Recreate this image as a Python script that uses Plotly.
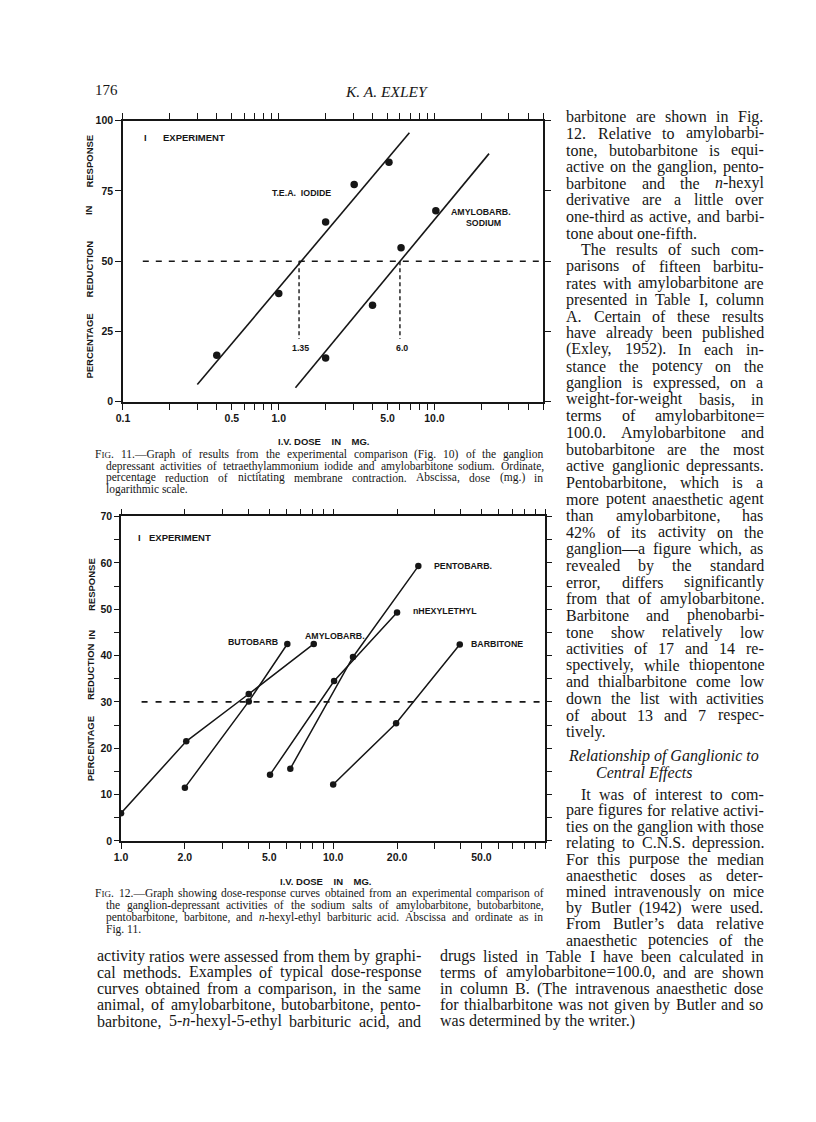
import re
import math
import plotly.graph_objects as go

# ---------------- Fig. 11 data (dose in mg, % reduction in response) -------------
tea_dose = [0.40, 1.0, 2.0, 3.05, 5.1]
tea_resp = [16.5, 38.5, 64.0, 77.3, 85.2]
tea_fit_dose = [0.30, 6.9]
tea_fit_resp = [6.1, 95.7]
amy11_dose = [2.0, 4.0, 6.1, 10.2]
amy11_resp = [15.6, 34.3, 54.8, 68.0]
amy11_fit_dose = [1.28, 22.4]
amy11_fit_resp = [5.0, 88.3]
ed50_level = 50
ed50_start = 0.134
ed50_doses = [1.35, 6.0]
ed50_drop_to = 22.3
ed50_labels = ["1.35", "6.0"]

fig11_xticks = [0.1, 0.2, 0.3, 0.4, 0.5, 0.6, 0.7, 0.8, 0.9,
                1, 2, 3, 4, 5, 6, 7, 8, 9, 10, 20, 30, 40, 50]
fig11_xlabels = {0.1: "0.1", 0.5: "0.5", 1: "1.0", 5: "5.0", 10: "10.0"}
fig11_yticks = [0, 25, 50, 75, 100]

# ---------------- Fig. 12 data ----------------
amy12_dose = [1.0, 2.03, 4.0, 8.1]
amy12_resp = [6.0, 21.5, 31.7, 42.5]
buto_dose = [2.0, 4.0, 6.08]
buto_resp = [11.5, 30.1, 42.5]
pento_dose = [6.28, 12.4, 25.2]
pento_resp = [15.6, 39.7, 59.3]
hexyl_dose = [5.04, 10.1, 20.0]
hexyl_resp = [14.3, 34.5, 49.3]
barb_dose = [10.0, 19.8, 39.5]
barb_resp = [12.2, 25.4, 42.4]
ref12_level = 30
ref12_start = 1.25

fig12_xticks = [1, 2, 3, 4, 5, 6, 7, 8, 9, 10, 20, 30, 40, 50, 60, 70, 80, 90, 100]
fig12_xlabels = {1: "1.0", 2: "2.0", 5: "5.0", 10: "10.0", 20: "20.0", 50: "50.0"}
fig12_yticks = list(range(0, 75, 5))

INK = "#161616"
PW, PH = 816, 1122


def px(x):
    return x / PW


def py(y):
    return 1 - y / PH


fig = go.Figure()

# ---- Fig. 11 traces ----
fig.add_trace(go.Scatter(x=[ed50_start, 50], y=[ed50_level, ed50_level], mode="lines",
                         line=dict(color=INK, width=1.6, dash="6px,7px"),
                         xaxis="x", yaxis="y", showlegend=False, hoverinfo="skip"))
for d in ed50_doses:
    fig.add_trace(go.Scatter(x=[d, d], y=[ed50_level, ed50_drop_to], mode="lines",
                             line=dict(color=INK, width=1.4, dash="4px,3px"),
                             xaxis="x", yaxis="y", showlegend=False, hoverinfo="skip"))
for fx, fy in [(tea_fit_dose, tea_fit_resp), (amy11_fit_dose, amy11_fit_resp)]:
    fig.add_trace(go.Scatter(x=fx, y=fy, mode="lines", line=dict(color=INK, width=1.6),
                             xaxis="x", yaxis="y", showlegend=False))
for dx, dy in [(tea_dose, tea_resp), (amy11_dose, amy11_resp)]:
    fig.add_trace(go.Scatter(x=dx, y=dy, mode="markers",
                             marker=dict(color=INK, size=7.5, line=dict(width=0)),
                             xaxis="x", yaxis="y", showlegend=False))

# ---- Fig. 12 traces ----
fig.add_trace(go.Scatter(x=[ref12_start, 100], y=[ref12_level, ref12_level], mode="lines",
                         line=dict(color=INK, width=1.6, dash="6px,8px"),
                         xaxis="x2", yaxis="y2", showlegend=False, hoverinfo="skip"))
for dx, dy in [(amy12_dose, amy12_resp), (buto_dose, buto_resp), (pento_dose, pento_resp),
               (hexyl_dose, hexyl_resp), (barb_dose, barb_resp)]:
    fig.add_trace(go.Scatter(x=dx, y=dy, mode="lines+markers",
                             line=dict(color=INK, width=1.5),
                             marker=dict(color=INK, size=6.5),
                             xaxis="x2", yaxis="y2", showlegend=False))

tickfont = dict(family="Liberation Sans", size=10.5, color=INK)


def xlabels(ticks, labels):
    return ["<b>%s</b>" % labels[t] if t in labels else "" for t in ticks]


axis_common = dict(showline=True, linecolor=INK, linewidth=1.6, mirror="ticks",
                   ticks="outside", tickcolor=INK, tickwidth=1.3, showgrid=False,
                   zeroline=False, tickfont=tickfont)

fig.update_layout(
    width=PW, height=PH, margin=dict(l=0, r=0, t=0, b=0),
    paper_bgcolor="white", plot_bgcolor="white", showlegend=False,
    xaxis=dict(domain=[px(117), px(541)], type="log", range=[-1, math.log10(50)],
               tickmode="array", tickvals=fig11_xticks,
               ticktext=xlabels(fig11_xticks, fig11_xlabels), ticklen=6,
               anchor="y", **axis_common),
    yaxis=dict(domain=[py(400), py(116)], range=[0, 100], tickmode="array",
               tickvals=fig11_yticks, ticktext=["<b>%d</b>" % v for v in fig11_yticks],
               ticklen=6, anchor="x", **axis_common),
    xaxis2=dict(domain=[px(115), px(543)], type="log", range=[0, 2],
                tickmode="array", tickvals=fig12_xticks,
                ticktext=xlabels(fig12_xticks, fig12_xlabels), ticklen=6,
                anchor="y2", **axis_common),
    yaxis2=dict(domain=[py(844), py(516)], range=[0, 70], tickmode="array",
                tickvals=fig12_yticks,
                ticktext=["<b>%d</b>" % v if v % 10 == 0 else "" for v in fig12_yticks],
                ticklen=5, anchor="x2", **axis_common),
)

# ---------------- text helpers ----------------
CW = {' ': 250, '!': 333, '"': 408, '%': 833, '&': 778, "'": 180, '(': 333, ')': 333,
      ',': 250, '-': 333, '.': 250, '/': 278, ':': 278, ';': 278, '=': 564, '?': 444,
      'A': 722, 'B': 667, 'C': 667, 'D': 722, 'E': 611, 'F': 556, 'G': 722, 'H': 722,
      'I': 333, 'J': 389, 'K': 722, 'L': 611, 'M': 889, 'N': 722, 'O': 722, 'P': 556,
      'Q': 722, 'R': 667, 'S': 556, 'T': 611, 'U': 722, 'V': 722, 'W': 944, 'X': 722,
      'Y': 722, 'Z': 611, 'a': 444, 'b': 500, 'c': 444, 'd': 500, 'e': 444, 'f': 333,
      'g': 500, 'h': 500, 'i': 278, 'j': 278, 'k': 500, 'l': 278, 'm': 778, 'n': 500,
      'o': 500, 'p': 500, 'q': 500, 'r': 333, 's': 389, 't': 278, 'u': 500, 'v': 500,
      'w': 722, 'x': 500, 'y': 500, 'z': 444, '\u2014': 1000, '\u2019': 333}
for _d in "0123456789":
    CW[_d] = 500

annotations = []
SMALLCAP = 0.78


def small_caps_fig(size):
    return "F<span style='font-size:%.1fpx'>IG</span>." % (size * SMALLCAP)


def text_width(s, size):
    if s == "FIG.":
        return (CW['F'] + (CW['I'] + CW['G']) * SMALLCAP + CW['.']) * size / 1000.0
    plain = re.sub(r"<[^>]+>", "", s)
    return sum(CW.get(ch, 500) for ch in plain) * size / 1000.0


def add_text(s, x, y, size, family="Liberation Serif", anchor="left", angle=0):
    annotations.append(dict(text=s, x=px(x), y=py(y), xref="paper", yref="paper",
                            xanchor=anchor, yanchor="middle", showarrow=False,
                            textangle=angle, borderpad=0,
                            font=dict(family=family, size=size, color=INK)))


def add_line(s, x0, x1, y, size, justify=True):
    words = s.split()
    if not justify or len(words) < 2:
        add_text(s, x0, y, size)
        return
    widths = [text_width(w, size) for w in words]
    gap = (x1 - x0 - sum(widths)) / (len(words) - 1)
    x = x0
    for w, wd in zip(words, widths):
        add_text(small_caps_fig(size) if w == "FIG." else w, x, y, size)
        x += wd + gap


# ---------------- page header ----------------
add_text("176", 88, 85, 15)
add_text("<i>K. A. EXLEY</i>", 383, 86, 15.5, anchor="center")

# ---------------- chart labels ----------------
SANS = "Liberation Sans"
NB = "\u00a0"
# Fig 11
add_text("<b>I</b>", 137, 133, 9.5, SANS)
add_text("<b>EXPERIMENT</b>", 156, 133, 9.5, SANS)
add_text("<b>T.E.A." + NB + NB + "IODIDE</b>", 297, 189, 8.8, SANS, anchor="center")
add_text("<b>AMYLOBARB.</b>", 478, 208, 8.8, SANS, anchor="center")
add_text("<b>SODIUM</b>", 481, 219, 8.8, SANS, anchor="center")
add_text("<b>%s</b>" % ed50_labels[0], 296, 346, 8.8, SANS, anchor="center")
add_text("<b>%s</b>" % ed50_labels[1], 398, 346, 8.8, SANS, anchor="center")
add_text("<b>I.V." + NB + "DOSE" + NB * 4 + "IN" + NB * 4 + "MG.</b>", 320, 440, 9.5, SANS, anchor="center")
for word, yy in [("RESPONSE", 157), ("IN", 206), ("REDUCTION", 266), ("PERCENTAGE", 344)]:
    add_text("<b>%s</b>" % word, 83, yy, 9.5, SANS, anchor="center", angle=-90)
# Fig 12
add_text("<b>I</b>", 131, 537, 9.5, SANS)
add_text("<b>EXPERIMENT</b>", 142, 537, 9.5, SANS)
add_text("<b>PENTOBARB.</b>", 430, 566, 8.8, SANS)
add_text("<b>nHEXYLETHYL</b>", 408, 612, 8.8, SANS)
add_text("<b>BARBITONE</b>", 467, 645, 8.8, SANS)
add_text("<b>BUTOBARB</b>", 222, 643, 8.8, SANS)
add_text("<b>AMYLOBARB.</b>", 300, 637, 8.8, SANS)
add_text("<b>I.V." + NB + "DOSE" + NB * 4 + "IN" + NB * 4 + "MG.</b>", 322, 885, 9.5, SANS, anchor="center")
for word, yy in [("RESPONSE", 585), ("IN", 635), ("REDUCTION", 673), ("PERCENTAGE", 751)]:
    add_text("<b>%s</b>" % word, 85, yy, 9.5, SANS, anchor="center", angle=-90)

# ---------------- captions ----------------
CAP_SIZE = 11.5
CAP_STEP = 12.0
cap11 = [
    ("FIG. 11.\u2014Graph of results from the experimental comparison (Fig. 10) of the ganglion", 88, True),
    ("depressant activities of tetraethylammonium iodide and amylobarbitone sodium. Ordinate,", 99, True),
    ("percentage reduction of nictitating membrane contraction. Abscissa, dose (mg.) in", 99, True),
    ("logarithmic scale.", 99, False),
]
for i, (s, x0, j) in enumerate(cap11):
    add_line(s, x0, 540, 453 + CAP_STEP * i, CAP_SIZE, j)

cap12 = [
    ("FIG. 12.\u2014Graph showing dose-response curves obtained from an experimental comparison of", 88, True),
    ("the ganglion-depressant activities of the sodium salts of amylobarbitone, butobarbitone,", 99, True),
    ("pentobarbitone, barbitone, and <i>n</i>-hexyl-ethyl barbituric acid. Abscissa and ordinate as in", 99, True),
    ("Fig. 11.", 99, False),
]
for i, (s, x0, j) in enumerate(cap12):
    add_line(s, x0, 540, 897 + CAP_STEP * i, CAP_SIZE, j)

# ---------------- body text: right column ----------------
right_upper = [
    ("barbitone are shown in Fig.", 0, True),
    ("12. Relative to amylobarbi-", 0, True),
    ("tone, butobarbitone is equi-", 0, True),
    ("active on the ganglion, pento-", 0, True),
    ("barbitone and the <i>n</i>-hexyl", 0, True),
    ("derivative are a little over", 0, True),
    ("one-third as active, and barbi-", 0, True),
    ("tone about one-fifth.", 0, False),
    ("The results of such com-", 15, True),
    ("parisons of fifteen barbitu-", 0, True),
    ("rates with amylobarbitone are", 0, True),
    ("presented in Table I, column", 0, True),
    ("A. Certain of these results", 0, True),
    ("have already been published", 0, True),
    ("(Exley, 1952). In each in-", 0, True),
    ("stance the potency on the", 0, True),
    ("ganglion is expressed, on a", 0, True),
    ("weight-for-weight basis, in", 0, True),
    ("terms of amylobarbitone=", 0, True),
    ("100.0. Amylobarbitone and", 0, True),
    ("butobarbitone are the most", 0, True),
    ("active ganglionic depressants.", 0, True),
    ("Pentobarbitone, which is a", 0, True),
    ("more potent anaesthetic agent", 0, True),
    ("than amylobarbitone, has", 0, True),
    ("42% of its activity on the", 0, True),
    ("ganglion\u2014a figure which, as", 0, True),
    ("revealed by the standard", 0, True),
    ("error, differs significantly", 0, True),
    ("from that of amylobarbitone.", 0, True),
    ("Barbitone and phenobarbi-", 0, True),
    ("tone show relatively low", 0, True),
    ("activities of 17 and 14 re-", 0, True),
    ("spectively, while thiopentone", 0, True),
    ("and thialbarbitone come low", 0, True),
    ("down the list with activities", 0, True),
    ("of about 13 and 7 respec-", 0, True),
    ("tively.", 0, False),
]
RX0, RX1 = 563, 762
for i, (s, ind, j) in enumerate(right_upper):
    add_line(s, RX0 + ind, RX1, 112 + 16.8 * i, 16, j)

add_text("<i>Relationship of Ganglionic to</i>", 565, 758, 16)
add_text("<i>Central Effects</i>", 593, 775, 16)

right_lower = [
    ("It was of interest to com-", 15, True),
    ("pare figures for relative activi-", 0, True),
    ("ties on the ganglion with those", 0, True),
    ("relating to C.N.S. depression.", 0, True),
    ("For this purpose the median", 0, True),
    ("anaesthetic doses as deter-", 0, True),
    ("mined intravenously on mice", 0, True),
    ("by Butler (1942) were used.", 0, True),
    ("From Butler\u2019s data relative", 0, True),
    ("anaesthetic potencies of the", 0, True),
]
for i, (s, ind, j) in enumerate(right_lower):
    add_line(s, RX0 + ind, RX1, 796.7 + 16.4 * i, 16, j)

bottom_left = [
    ("activity ratios were assessed from them by graphi-", True),
    ("cal methods. Examples of typical dose-response", True),
    ("curves obtained from a comparison, in the same", True),
    ("animal, of amylobarbitone, butobarbitone, pento-", True),
    ("barbitone, 5-<i>n</i>-hexyl-5-ethyl barbituric acid, and", True),
]
bottom_right = [
    ("drugs listed in Table I have been calculated in", True),
    ("terms of amylobarbitone=100.0, and are shown", True),
    ("in column B. (The intravenous anaesthetic dose", True),
    ("for thialbarbitone was not given by Butler and so", True),
    ("was determined by the writer.)", False),
]
for i, (s, j) in enumerate(bottom_left):
    add_line(s, 90, 416, 960.5 + 16.4 * i, 16, j)
for i, (s, j) in enumerate(bottom_right):
    add_line(s, 436, 762, 960.5 + 16.4 * i, 16, j)

fig.update_layout(annotations=annotations)
fig.write_html("out.html", config={"displayModeBar": False},
               post_script="document.body.style.margin='0';document.body.style.padding='0';")
